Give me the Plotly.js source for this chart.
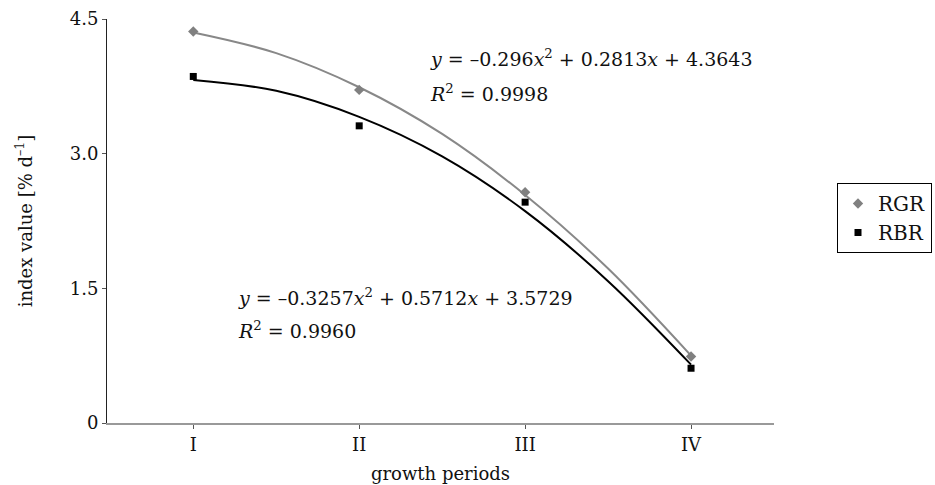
<!DOCTYPE html>
<html>
<head>
<meta charset="utf-8">
<script src="https://cdn.plot.ly/plotly-3.0.1.min.js"></script>
<style>html,body{margin:0;padding:0;background:#fff;}#chart{width:935px;height:485px;}</style>
</head>
<body>
<div id="chart"></div>
<script>
// Data
var categories = ['I', 'II', 'III', 'IV'];
var periodIndex = [1, 2, 3, 4];
var rgrValues = [4.36, 3.71, 2.57, 0.74];
var rbrValues = [3.86, 3.31, 2.46, 0.61];
// Polynomial trendline at whole and half periods
var trendX = [1, 1.5, 2, 2.5, 3, 3.5, 4];
var rgrTrend = [4.35, 4.12, 3.74, 3.22, 2.54, 1.72, 0.75];
var rbrTrend = [3.82, 3.70, 3.41, 2.97, 2.36, 1.58, 0.65];
var rgrEquation = '<i>y</i> = \u20130.296<i>x</i><sup>2</sup> + 0.2813<i>x</i> + 4.3643';
var rgrR2 = '<i>R</i><sup>2</sup> = 0.9998';
var rbrEquation = '<i>y</i> = \u20130.3257<i>x</i><sup>2</sup> + 0.5712<i>x</i> + 3.5729';
var rbrR2 = '<i>R</i><sup>2</sup> = 0.9960';

var FONT = "'DejaVu Serif', serif";

var traces = [
  {x: trendX, y: rgrTrend, type: 'scatter', mode: 'lines', line: {shape: 'spline', smoothing: 1, color: '#888888', width: 2}, showlegend: false, hoverinfo: 'skip'},
  {x: trendX, y: rbrTrend, type: 'scatter', mode: 'lines', line: {shape: 'spline', smoothing: 1, color: '#000000', width: 2}, showlegend: false, hoverinfo: 'skip'},
  {x: periodIndex, y: rgrValues, name: 'RGR', type: 'scatter', mode: 'markers', marker: {symbol: 'diamond', size: 8, color: '#808080'}},
  {x: periodIndex, y: rbrValues, name: 'RBR', type: 'scatter', mode: 'markers', marker: {symbol: 'square', size: 7, color: '#000000'}}
];

var layout = {
  width: 935, height: 485,
  margin: {l: 107, r: 161, t: 19, b: 62, autoexpand: false},
  paper_bgcolor: '#ffffff', plot_bgcolor: '#ffffff',
  font: {family: FONT, size: 18, color: '#111111'},
  showlegend: true,
  legend: {x: (837-107)/667, y: (423-183)/404, xanchor: 'left', yanchor: 'top', bordercolor: '#000000', borderwidth: 1,
           font: {family: FONT, size: 20, color: '#111'}, tracegroupgap: 0, itemwidth: 30},
  xaxis: {
    range: [0.48, 4.5], tickvals: periodIndex, ticktext: categories,
    showgrid: false, zeroline: false, showline: true, linecolor: '#999999', linewidth: 2,
    ticks: 'outside', ticklen: 4, tickcolor: '#555', tickwidth: 1,
    tickfont: {family: FONT, size: 18, color: '#111'},
    title: {text: 'growth periods', font: {family: FONT, size: 18, color: '#111'}, standoff: 14}
  },
  yaxis: {
    range: [0, 4.5], tickvals: [0, 1.5, 3.0, 4.5], ticktext: ['0', '1.5', '3.0', '4.5'],
    showgrid: false, zeroline: false, showline: true, linecolor: '#222222', linewidth: 1,
    ticks: 'outside', ticklen: 4, tickcolor: '#555', tickwidth: 1,
    tickfont: {family: FONT, size: 18, color: '#111'},
    title: {text: 'index value [% d<sup>\u20131</sup>]', font: {family: FONT, size: 18, color: '#111'}, standoff: 32}
  },
  annotations: [
    {xref: 'paper', yref: 'paper', x: (428-107)/667, y: (423-58)/404, xanchor: 'left', yanchor: 'middle', text: rgrEquation, showarrow: false, font: {family: FONT, size: 19, color: '#111'}},
    {xref: 'paper', yref: 'paper', x: (428-107)/667, y: (423-93)/404, xanchor: 'left', yanchor: 'middle', text: rgrR2, showarrow: false, font: {family: FONT, size: 19, color: '#111'}},
    {xref: 'paper', yref: 'paper', x: (236-107)/667, y: (423-297)/404, xanchor: 'left', yanchor: 'middle', text: rbrEquation, showarrow: false, font: {family: FONT, size: 19, color: '#111'}},
    {xref: 'paper', yref: 'paper', x: (236-107)/667, y: (423-330)/404, xanchor: 'left', yanchor: 'middle', text: rbrR2, showarrow: false, font: {family: FONT, size: 19, color: '#111'}}
  ]
};

Plotly.newPlot('chart', traces, layout, {displayModeBar: false, staticPlot: true});
</script>
</body>
</html>
